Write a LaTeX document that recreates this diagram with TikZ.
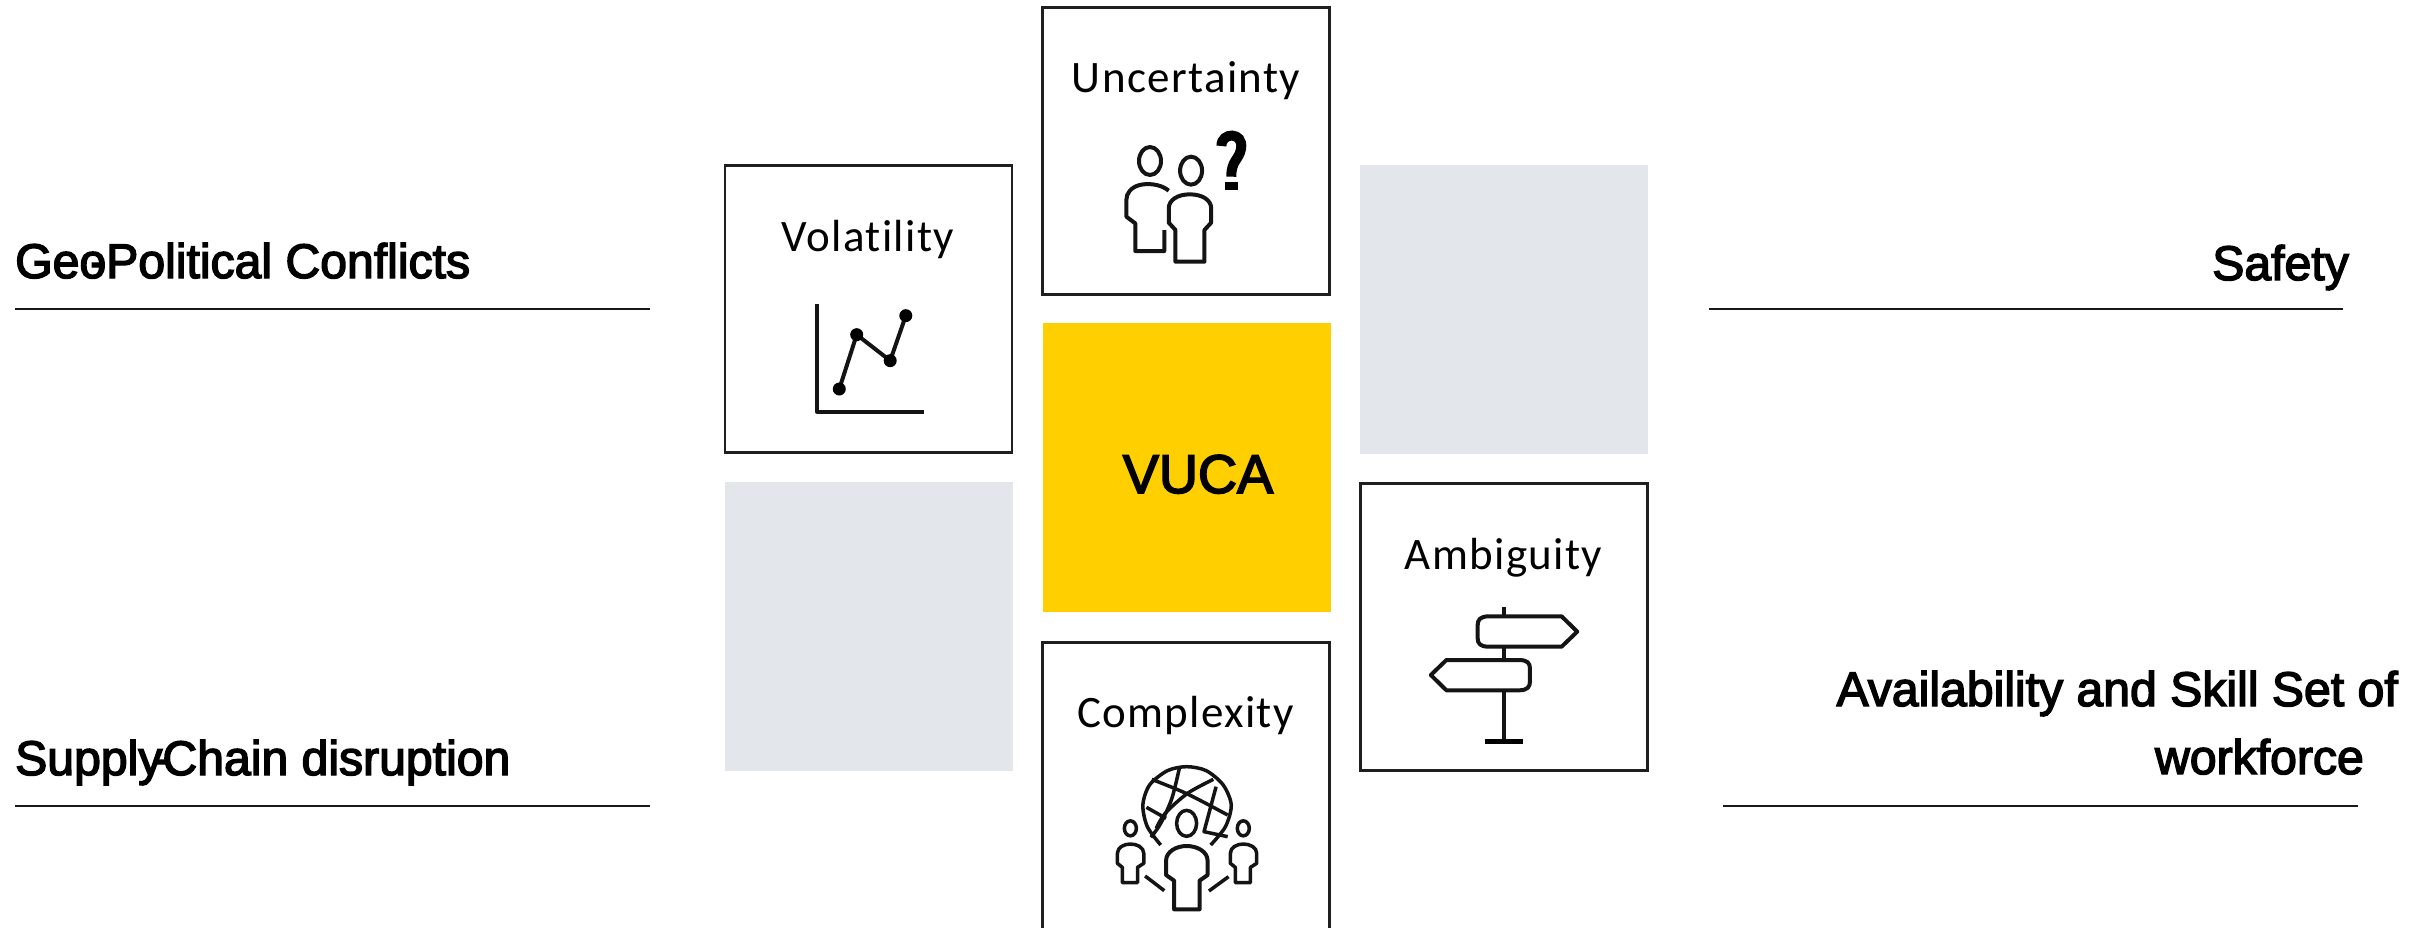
\documentclass[tikz,border=0pt]{standalone}
\usepackage{fontspec}
\newfontfamily\lab[FakeBold=3,FakeStretch=0.993]{Liberation Sans}
\newfontfamily\boxf[LetterSpace=3,Ligatures=NoCommon]{Carlito}
\tikzset{
 card/.style={draw=black!88,line width=2.6pt,fill=white,minimum width=287pt,minimum height=286.5pt,inner sep=0pt,outer sep=0pt},
 blank/.style={fill=#1,minimum width=288pt,minimum height=289pt,inner sep=0pt,outer sep=0pt},
 boxlabel/.style={anchor=base,inner sep=0pt,font=\boxf\fontsize{45}{50}\selectfont},
 sidelabel/.style={inner sep=0pt,font=\lab\fontsize{48.5}{58}\selectfont},
 rule/.style={line width=2pt,black!90},
 ink/.style={line width=4pt,black!92,line join=round},
 thinink/.style={line width=3.5pt,black!92,line join=round},
 zone/.style={x=0.44643pt,y=-0.33333pt},
}
\definecolor{vy}{RGB}{255,207,0}
\definecolor{vg}{RGB}{227,230,235}
\begin{document}
\begin{tikzpicture}[x=1pt,y=-1pt]
\useasboundingbox (0,0) rectangle (2425,927);
\clip (0,0) rectangle (2425,927);
% squares
\node[blank=vg] (gr) at (1503.5,309) {};
\node[blank=vg] (gl) at (869,626.5) {};
\node[blank=vy] (core) at (1186.5,467.5) {};
\node[anchor=base,inner sep=0pt,font=\lab\fontsize{54.5}{60}\selectfont] (vuca) at (1198,493) {VUCA};
\node[card] (unc) at (1186,151) {};
\node[card] (vol) at (868.5,309) {};
\node[card] (amb) at (1504,627) {};
\node[card] (cpx) at (1186,786) {};
% card labels
\node[boxlabel] (tu) at (1186,92) {Uncertainty};
\node[boxlabel] (tv) at (868,251) {Volatility};
\node[boxlabel] (ta) at (1503.5,569) {Ambiguity};
\node[boxlabel] (tc) at (1185.5,727) {Complexity};
% side labels
\node[sidelabel,anchor=base west] (geo) at (15,278) {Geo\llap{-}Political Conflicts};
\node[sidelabel,anchor=base west] (sup) at (15,775) {Supply\llap{-\kern-6pt}Chain disruption};
\node[sidelabel,anchor=base east] (saf) at (2349,280) {Safety};
\node[sidelabel,anchor=base east] (avl) at (2398,706) {Availability and Skill Set of};
\node[sidelabel,anchor=base east] (wrk) at (2364,774) {workforce};
% rules
\coordinate (r1a) at (15,309); \coordinate (r1b) at (650,309);
\coordinate (r2a) at (15,805.5); \coordinate (r2b) at (650,805.5);
\coordinate (r3a) at (1709,309); \coordinate (r3b) at (2343,309);
\coordinate (r4a) at (1723,805.5); \coordinate (r4b) at (2358,805.5);
\draw[rule] (r1a) -- (r1b);
\draw[rule] (r2a) -- (r2b);
\draw[rule] (r3a) -- (r3b);
\draw[rule] (r4a) -- (r4b);
% icons, upper crop
\begin{scope}[zone,shift={(700pt,0pt)}]
 % volatility
 \draw[ink] (262,913) -- (262,1235) -- (501,1235);
 \draw[ink] (312,1167) -- (351,1004) -- (426,1082) -- (461,947);
 \foreach \p in {(312,1167),(351,1004),(426,1082),(461,947)}
  \fill[black] \p ellipse[x radius=6.5pt,y radius=6.5pt];
 % uncertainty
 \draw[ink] (1008,483) ellipse[x radius=11pt,y radius=14pt];
 \draw[ink] (1100,512) ellipse[x radius=11pt,y radius=14pt];
 \draw[ink] (1050,572) .. controls (1030,550) and (1000,550) .. (985,555) .. controls (965,562) and (955,580) .. (955,600) -- (955,650) -- (975,670) -- (975,753) -- (1040,753) -- (1040,690);
 \draw[ink] (1050,625) .. controls (1050,600) and (1070,583) .. (1097,583) .. controls (1125,583) and (1145,600) .. (1145,625) -- (1145,668) -- (1130,690) -- (1130,785) -- (1065,785) -- (1065,690) -- (1050,668) -- cycle;
 \draw[line width=10pt,black,line cap=butt] (1168,438) .. controls (1168,395) and (1218,395) .. (1212,445) .. controls (1208,480) and (1190,480) .. (1190,530);
 \fill[black] (1175,545) rectangle (1204,570);
\end{scope}
% icons, lower crop
\begin{scope}[zone,shift={(1000pt,-470pt)}]
 % signpost
 \draw[ink] (1129,410) -- (1129,438);
 \draw[ink] (1129,530) -- (1129,570);
 \draw[ink] (1129,662) -- (1129,815);
 \draw[line width=4.5pt,black] (1086,815) -- (1172,815);
 \draw[ink] (1095,439) -- (1258,439) -- (1293,485) -- (1258,530) -- (1095,530) .. controls (1075,530) and (1070,520) .. (1070,505) -- (1070,465) .. controls (1070,450) and (1075,439) .. (1095,439) -- cycle;
 \draw[ink] (1000,570) -- (1162,570) .. controls (1182,570) and (1187,580) .. (1187,595) -- (1187,635) .. controls (1187,650) and (1182,661) .. (1162,661) -- (1000,661) -- (965,615) -- cycle;
 % complexity: globe
 \draw[thinink] plot[smooth] coordinates {(360,1125) (330,1070) (320,1005) (335,945) (375,902) (418,890) (462,902) (500,945) (518,1005) (505,1070) (472,1125)};
 \draw[thinink] plot[smooth] coordinates {(402,893) (385,985) (360,1060) (338,1102)};
 \draw[thinink] plot[smooth] coordinates {(340,928) (420,972) (510,1035)};
 \draw[thinink] plot[smooth] coordinates {(478,928) (420,970) (370,1030) (350,1075)};
 \draw[thinink] (328,1012) -- (372,1045);
 \draw[thinink] (484,950) -- (457,1085) -- (510,1100);
 % complexity: people
 \draw[thinink] (418,1060) ellipse[x radius=10pt,y radius=13pt];
 \draw[ink] (372,1172) .. controls (372,1145) and (395,1128) .. (418,1128) .. controls (442,1128) and (465,1145) .. (465,1172) -- (465,1215) -- (447,1232) -- (447,1318) -- (390,1318) -- (390,1232) -- (372,1215) -- cycle;
 \draw[thinink] (292,1075) ellipse[x radius=6pt,y radius=7.5pt];
 \draw[thinink] (263,1150) .. controls (263,1132) and (278,1122) .. (292,1122) .. controls (307,1122) and (322,1132) .. (322,1150) -- (322,1180) -- (308,1192) -- (308,1238) -- (274,1238) -- (274,1192) -- (263,1180) -- cycle;
 \draw[thinink] (545,1075) ellipse[x radius=6pt,y radius=7.5pt];
 \draw[thinink] (516,1150) .. controls (516,1132) and (531,1122) .. (545,1122) .. controls (560,1122) and (575,1132) .. (575,1150) -- (575,1180) -- (561,1192) -- (561,1238) -- (527,1238) -- (527,1192) -- (516,1180) -- cycle;
 \draw[thinink] (325,1218) -- (368,1262);
 \draw[thinink] (512,1220) -- (468,1263);
\end{scope}
\end{tikzpicture}
\end{document}
